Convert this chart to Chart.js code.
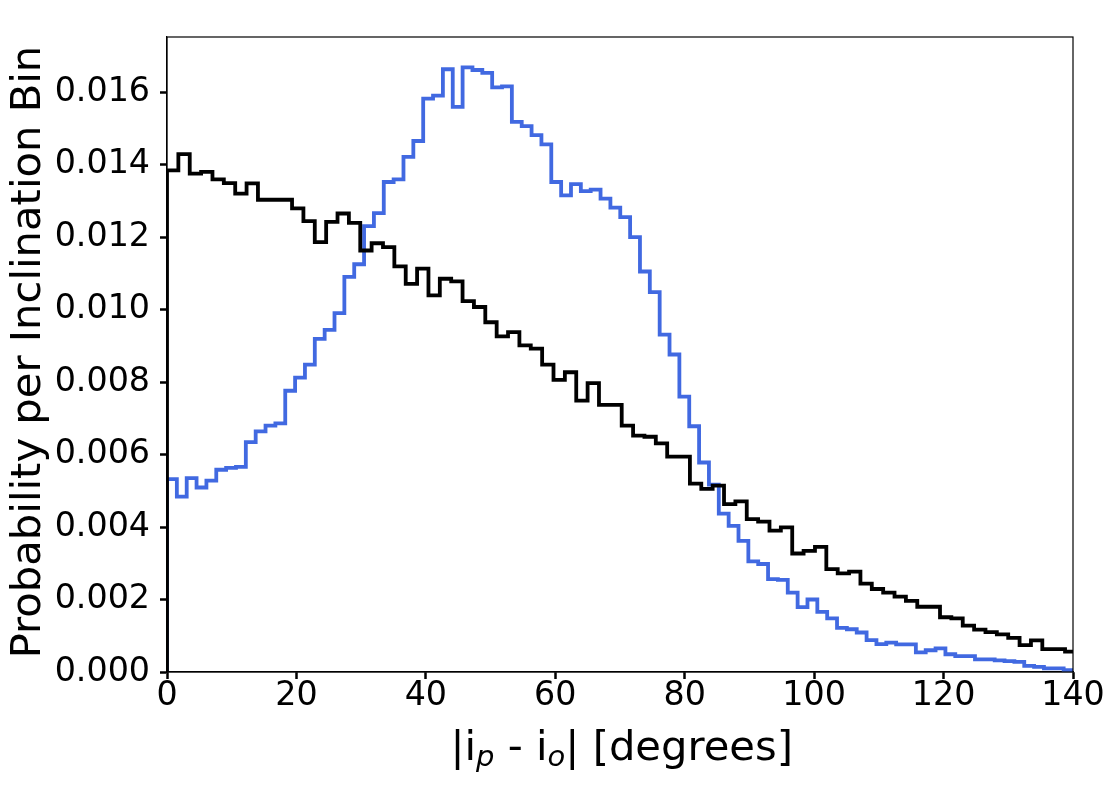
<!DOCTYPE html>
<html>
<head>
<meta charset="utf-8">
<script src="https://cdn.jsdelivr.net/npm/chart.js@4.4.0/dist/chart.umd.min.js"></script>
<style>
  html, body { margin: 0; padding: 0; background: #fff; }
  canvas { display: block; }
</style>
</head>
<body>
<canvas id="histChart" width="1114" height="786"></canvas>
<script>
// both histograms start at 0 degrees, equal-width bins
const blackBinWidth = 1.7566;
const blueBinWidth = 1.5226;

// probability per bin
const blackProb = [
  0.01384, 0.01429, 0.01375, 0.0138, 0.01359, 0.01349, 0.0132, 0.01348, 0.01303, 0.01303,
  0.01303, 0.01279, 0.01244, 0.01186, 0.01242, 0.01265, 0.01239, 0.01163, 0.01183, 0.01172,
  0.01119, 0.01071, 0.01113, 0.01039, 0.01085, 0.01078, 0.01023, 0.01007, 0.00965, 0.00926,
  0.00938, 0.00901, 0.00892, 0.00848, 0.00806, 0.00827, 0.00749, 0.00797, 0.00737, 0.00737,
  0.0068, 0.00652, 0.00649, 0.00631, 0.00594, 0.00594, 0.0052, 0.00505, 0.00514, 0.00463,
  0.00471, 0.00422, 0.00415, 0.0039, 0.00399, 0.00327, 0.00334, 0.00345, 0.00284, 0.00272,
  0.00277, 0.00244, 0.00229, 0.00219, 0.00208, 0.00196, 0.0018, 0.0018, 0.00151, 0.00148,
  0.00128, 0.00117, 0.0011, 0.00104, 0.00094, 0.00074, 0.00087, 0.00063, 0.00063, 0.00056
];

const blueProb = [
  0.00532, 0.00484, 0.00535, 0.00509, 0.00528, 0.00558, 0.00563, 0.00566, 0.00634, 0.00664,
  0.0068, 0.00686, 0.00776, 0.00812, 0.00848, 0.00919, 0.00944, 0.0099, 0.0109, 0.01125,
  0.0123, 0.01266, 0.01352, 0.01359, 0.01421, 0.01465, 0.01582, 0.0159, 0.01663, 0.01559,
  0.01668, 0.01661, 0.01653, 0.01613, 0.01616, 0.01518, 0.01506, 0.01481, 0.01456, 0.01352,
  0.01315, 0.01346, 0.01327, 0.01331, 0.01306, 0.01281, 0.01255, 0.012, 0.01105, 0.01048,
  0.00931, 0.00876, 0.0076, 0.00678, 0.00578, 0.00517, 0.00437, 0.00403, 0.00362, 0.00305,
  0.00298, 0.00256, 0.00254, 0.00219, 0.00179, 0.002, 0.00166, 0.00148, 0.00122, 0.00118,
  0.00109, 0.00088, 0.00077, 0.00081, 0.00076, 0.00076, 0.00054, 0.0006, 0.00065, 0.00049,
  0.00044, 0.00044, 0.00035, 0.00035, 0.00032, 0.0003, 0.00028, 0.00017, 0.00014, 0.0001,
  0.0001, 0.00005, 0.0001
];

const yTitle = 'Probability per Inclination Bin';
const xTitleParts = [
  { text: '|i', sub: false },
  { text: 'p', sub: true },
  { text: ' - i', sub: false },
  { text: 'o', sub: true },
  { text: '| [degrees]', sub: false }
];

const FAMILY = '"DejaVu Sans"';

// turn bin values into points for a stepped line (histtype=step look)
function stepPoints(values, width) {
  const pts = [{ x: 0, y: 0 }];
  values.forEach((v, i) => pts.push({ x: i * width, y: v }));
  pts.push({ x: values.length * width, y: values[values.length - 1] });
  return pts;
}

const frameAndTitles = {
  id: 'frameAndTitles',
  afterDraw(chart) {
    const ctx = chart.ctx;
    const a = chart.chartArea;
    ctx.save();
    ctx.strokeStyle = '#000';
    ctx.lineWidth = 1.2;
    ctx.strokeRect(a.left, a.top, a.right - a.left, a.bottom - a.top);

    ctx.fillStyle = '#000';
    // y title
    ctx.save();
    ctx.translate(40, 352);
    ctx.rotate(-Math.PI / 2);
    ctx.font = '41.7px ' + FAMILY;
    ctx.textAlign = 'center';
    ctx.textBaseline = 'alphabetic';
    ctx.fillText(yTitle, 0, 0);
    ctx.restore();

    // x title with italic subscripts
    const mainFont = '41.7px ' + FAMILY;
    const subFont = 'italic 29px ' + FAMILY;
    let total = 0;
    xTitleParts.forEach(p => {
      ctx.font = p.sub ? subFont : mainFont;
      p.w = ctx.measureText(p.text).width;
      total += p.w;
    });
    let x = 621.7 - total / 2;
    ctx.textAlign = 'left';
    ctx.textBaseline = 'alphabetic';
    xTitleParts.forEach(p => {
      ctx.font = p.sub ? subFont : mainFont;
      ctx.fillText(p.text, x, p.sub ? 766 : 760);
      x += p.w;
    });
    ctx.restore();
  }
};

function axisGrid() {
  return {
    display: true,
    drawOnChartArea: false,
    drawTicks: true,
    tickLength: 7,
    tickWidth: 2.5,
    tickColor: '#000'
  };
}

window.onload = function () {
  new Chart(document.getElementById('histChart'), {
    type: 'line',
    data: {
      datasets: [{
        label: 'black',
        data: stepPoints(blackProb, blackBinWidth),
        borderColor: '#000000',
        borderWidth: 3.8,
        stepped: 'before',
        pointRadius: 0,
        fill: false,
        clip: 0,
        borderJoinStyle: 'miter'
      }, {
        label: 'blue',
        data: stepPoints(blueProb, blueBinWidth),
        borderColor: '#4169e1',
        borderWidth: 3.8,
        stepped: 'before',
        pointRadius: 0,
        fill: false,
        clip: 0,
        borderJoinStyle: 'miter'
      }]
    },
    options: {
      responsive: false,
      animation: false,
      devicePixelRatio: 1,
      layout: { padding: { top: 37, right: 41, left: 0, bottom: 0 } },
      plugins: {
        legend: { display: false },
        tooltip: { enabled: false }
      },
      scales: {
        x: {
          type: 'linear',
          min: 0,
          max: 140,
          ticks: {
            stepSize: 20,
            maxRotation: 0,
            padding: 1,
            color: '#000',
            font: { family: FAMILY, size: 33.3, lineHeight: 1 }
          },
          grid: axisGrid(),
          border: { display: true, color: '#000', width: 1.2 },
          afterFit: s => { s.height = 114; }
        },
        y: {
          type: 'linear',
          min: 0,
          max: 0.01752,
          ticks: {
            stepSize: 0.002,
            includeBounds: false,
            padding: 10,
            color: '#000',
            font: { family: FAMILY, size: 33.3 },
            callback: v => v.toFixed(3)
          },
          grid: axisGrid(),
          border: { display: true, color: '#000', width: 1.2 },
          afterFit: s => { s.width = 167; }
        }
      }
    },
    plugins: [frameAndTitles]
  });
};
</script>
</body>
</html>
